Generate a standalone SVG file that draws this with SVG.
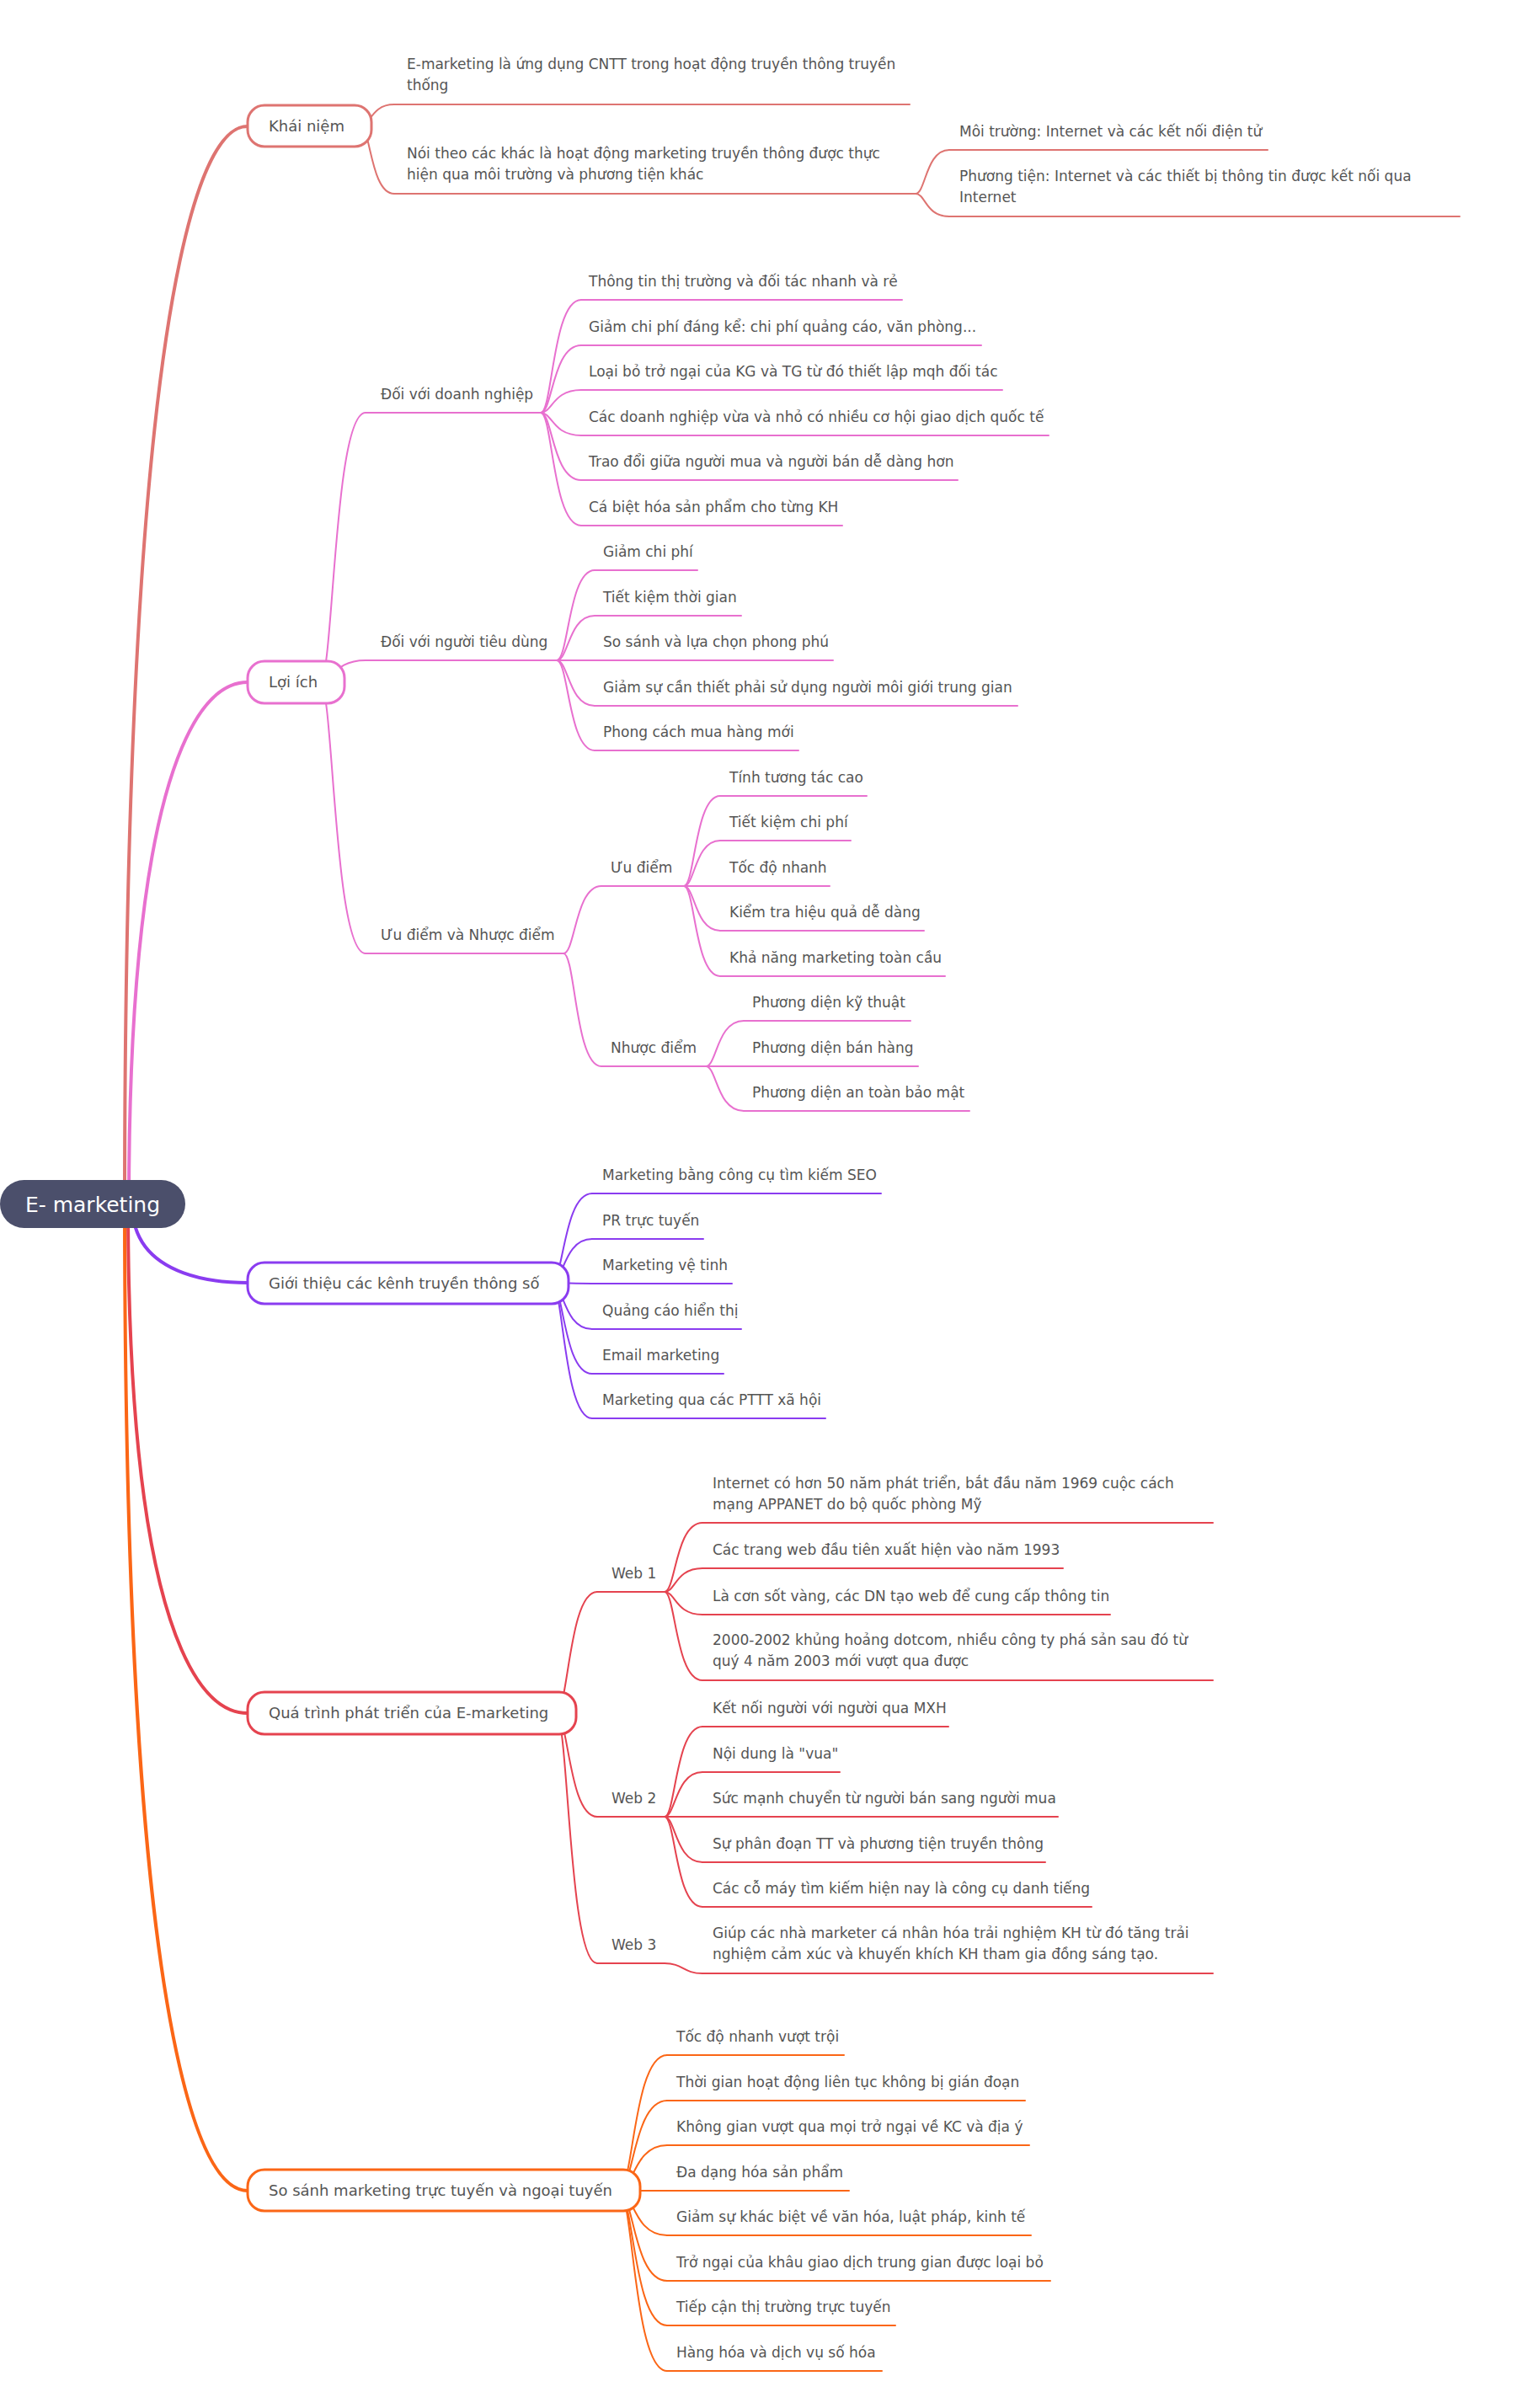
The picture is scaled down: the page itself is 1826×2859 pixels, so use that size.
<svg xmlns="http://www.w3.org/2000/svg" width="1826" height="2859" viewBox="0 0 1826 2859">
<style>
text{font-family:"DejaVu Sans","Noto Sans",sans-serif;font-size:17px;fill:#555555}
.nt{font-size:18px}
.rt{font-size:25px;fill:#ffffff;text-anchor:middle}
path,line{fill:none;stroke-linecap:round}
.w4{stroke-width:4}
.w2{stroke-width:2}
.box{fill:#ffffff;stroke-width:3}
.k{stroke:#de7471}
.l{stroke:#e870cf}
.g{stroke:#8a3cf0}
.q{stroke:#e5434f}
.s{stroke:#fb6616}
</style>
<rect width="1826" height="2859" fill="#ffffff"/>
<g id="connectors">
  <path class="k w4" d="M148 1430 C148 150 274 150 294 150"/>
  <path class="l w4" d="M153 1430 C153 810 274 810 294 810"/>
  <path class="g w4" d="M157 1430 C157 1523 274 1523 294 1523"/>
  <path class="q w4" d="M152 1430 C152 2034 274 2034 294 2034"/>
  <path class="s w4" d="M148 1430 C148 2601 274 2601 294 2601"/>

  <path class="k w2" d="M428 150 C440 150 440 124 468 124"/>
  <path class="k w2" d="M428 150 C440 150 440 230 468 230"/>
  <path class="k w2" d="M1087 230 C1099 230 1099 178 1127 178"/>
  <path class="k w2" d="M1087 230 C1099 230 1099 257 1127 257"/>

  <path class="l w2" d="M380 810 C396 810 396 490 434 490"/>
  <path class="l w2" d="M380 810 C396 810 396 784 434 784"/>
  <path class="l w2" d="M380 810 C396 810 396 1132 434 1132"/>
  <path class="l w2" d="M642 490 C656 490 656 356 690 356"/>
  <path class="l w2" d="M642 490 C656 490 656 410 690 410"/>
  <path class="l w2" d="M642 490 C656 490 656 463 690 463"/>
  <path class="l w2" d="M642 490 C656 490 656 517 690 517"/>
  <path class="l w2" d="M642 490 C656 490 656 570 690 570"/>
  <path class="l w2" d="M642 490 C656 490 656 624 690 624"/>
  <path class="l w2" d="M661 784 C675 784 675 677 706 677"/>
  <path class="l w2" d="M661 784 C675 784 675 731 706 731"/>
  <path class="l w2" d="M661 784 L706 784"/>
  <path class="l w2" d="M661 784 C675 784 675 838 706 838"/>
  <path class="l w2" d="M661 784 C675 784 675 891 706 891"/>
  <path class="l w2" d="M669 1132 C683 1132 683 1052 714 1052"/>
  <path class="l w2" d="M669 1132 C683 1132 683 1266 714 1266"/>
  <path class="l w2" d="M812 1052 C825 1052 825 945 855 945"/>
  <path class="l w2" d="M812 1052 C825 1052 825 998 855 998"/>
  <path class="l w2" d="M812 1052 L855 1052"/>
  <path class="l w2" d="M812 1052 C825 1052 825 1105 855 1105"/>
  <path class="l w2" d="M812 1052 C825 1052 825 1159 855 1159"/>
  <path class="l w2" d="M838 1266 C851 1266 851 1212 883 1212"/>
  <path class="l w2" d="M838 1266 L883 1266"/>
  <path class="l w2" d="M838 1266 C851 1266 851 1319 883 1319"/>

  <path class="g w2" d="M655 1523 C669 1523 669 1417 703 1417"/>
  <path class="g w2" d="M655 1523 C669 1523 669 1471 703 1471"/>
  <path class="g w2" d="M655 1523 C669 1523 669 1524 703 1524"/>
  <path class="g w2" d="M655 1523 C669 1523 669 1578 703 1578"/>
  <path class="g w2" d="M655 1523 C669 1523 669 1631 703 1631"/>
  <path class="g w2" d="M655 1523 C669 1523 669 1684 703 1684"/>

  <path class="q w2" d="M660 2034 C675 2034 675 1890 709 1890"/>
  <path class="q w2" d="M660 2034 C675 2034 675 2157 709 2157"/>
  <path class="q w2" d="M660 2034 C675 2034 675 2331 709 2331"/>
  <path class="q w2" d="M789 1890 C802 1890 802 1808 834 1808"/>
  <path class="q w2" d="M789 1890 C802 1890 802 1862 834 1862"/>
  <path class="q w2" d="M789 1890 C802 1890 802 1917 834 1917"/>
  <path class="q w2" d="M789 1890 C802 1890 802 1995 834 1995"/>
  <path class="q w2" d="M789 2157 C802 2157 802 2050 834 2050"/>
  <path class="q w2" d="M789 2157 C802 2157 802 2104 834 2104"/>
  <path class="q w2" d="M789 2157 L834 2157"/>
  <path class="q w2" d="M789 2157 C802 2157 802 2211 834 2211"/>
  <path class="q w2" d="M789 2157 C802 2157 802 2264 834 2264"/>
  <path class="q w2" d="M789 2331 C811 2331 811 2343 834 2343"/>

  <path class="s w2" d="M735 2601 C752 2601 752 2440 792 2440"/>
  <path class="s w2" d="M735 2601 C752 2601 752 2494 792 2494"/>
  <path class="s w2" d="M735 2601 C752 2601 752 2547 792 2547"/>
  <path class="s w2" d="M735 2601 L792 2601"/>
  <path class="s w2" d="M735 2601 C752 2601 752 2654 792 2654"/>
  <path class="s w2" d="M735 2601 C752 2601 752 2708 792 2708"/>
  <path class="s w2" d="M735 2601 C752 2601 752 2761 792 2761"/>
  <path class="s w2" d="M735 2601 C752 2601 752 2815 792 2815"/>
</g>

<g id="root">
  <rect x="0" y="1401" width="220" height="57" rx="28.5" fill="#4b4f6b"/>
  <text class="rt" x="110" y="1439">E- marketing</text>
</g>

<g id="khai-niem">
  <rect class="box k" x="294" y="125" width="147" height="49" rx="20"/>
  <text class="nt" x="319" y="156">Khái niệm</text>
</g>
<g id="kn-1"><line class="k w2" x1="468" y1="124" x2="1080" y2="124"/><text x="483" y="82">E-marketing là ứng dụng CNTT trong hoạt động truyền thông truyền</text><text x="483" y="107">thống</text></g>
<g id="kn-2"><line class="k w2" x1="468" y1="230" x2="1087" y2="230"/><text x="483" y="188">Nói theo các khác là hoạt động marketing truyền thông được thực</text><text x="483" y="213">hiện qua môi trường và phương tiện khác</text></g>
<g id="kn-2-1"><line class="k w2" x1="1127" y1="178" x2="1505" y2="178"/><text x="1139" y="162">Môi trường: Internet và các kết nối điện tử</text></g>
<g id="kn-2-2"><line class="k w2" x1="1127" y1="257" x2="1733" y2="257"/><text x="1139" y="215">Phương tiện: Internet và các thiết bị thông tin được kết nối qua</text><text x="1139" y="240">Internet</text></g>

<g id="loi-ich">
  <rect class="box l" x="294" y="785" width="115" height="50" rx="20"/>
  <text class="nt" x="319" y="816">Lợi ích</text>
</g>
<g id="li-dn"><line class="l w2" x1="434" y1="490" x2="642" y2="490"/><text x="452" y="474">Đối với doanh nghiệp</text></g>
<g id="li-dn-1"><line class="l w2" x1="690" y1="356" x2="1071" y2="356"/><text x="699" y="340">Thông tin thị trường và đối tác nhanh và rẻ</text></g>
<g id="li-dn-2"><line class="l w2" x1="690" y1="410" x2="1165" y2="410"/><text x="699" y="394">Giảm chi phí đáng kể: chi phí quảng cáo, văn phòng...</text></g>
<g id="li-dn-3"><line class="l w2" x1="690" y1="463" x2="1190" y2="463"/><text x="699" y="447">Loại bỏ trở ngại của KG và TG từ đó thiết lập mqh đối tác</text></g>
<g id="li-dn-4"><line class="l w2" x1="690" y1="517" x2="1245" y2="517"/><text x="699" y="501">Các doanh nghiệp vừa và nhỏ có nhiều cơ hội giao dịch quốc tế</text></g>
<g id="li-dn-5"><line class="l w2" x1="690" y1="570" x2="1137" y2="570"/><text x="699" y="554">Trao đổi giữa người mua và người bán dễ dàng hơn</text></g>
<g id="li-dn-6"><line class="l w2" x1="690" y1="624" x2="1000" y2="624"/><text x="699" y="608">Cá biệt hóa sản phẩm cho từng KH</text></g>

<g id="li-ntd"><line class="l w2" x1="434" y1="784" x2="661" y2="784"/><text x="452" y="768">Đối với người tiêu dùng</text></g>
<g id="li-ntd-1"><line class="l w2" x1="706" y1="677" x2="828" y2="677"/><text x="716" y="661">Giảm chi phí</text></g>
<g id="li-ntd-2"><line class="l w2" x1="706" y1="731" x2="880" y2="731"/><text x="716" y="715">Tiết kiệm thời gian</text></g>
<g id="li-ntd-3"><line class="l w2" x1="706" y1="784" x2="989" y2="784"/><text x="716" y="768">So sánh và lựa chọn phong phú</text></g>
<g id="li-ntd-4"><line class="l w2" x1="706" y1="838" x2="1208" y2="838"/><text x="716" y="822">Giảm sự cần thiết phải sử dụng người môi giới trung gian</text></g>
<g id="li-ntd-5"><line class="l w2" x1="706" y1="891" x2="948" y2="891"/><text x="716" y="875">Phong cách mua hàng mới</text></g>

<g id="li-un"><line class="l w2" x1="434" y1="1132" x2="669" y2="1132"/><text x="452" y="1116">Ưu điểm và Nhược điểm</text></g>
<g id="li-uu"><line class="l w2" x1="714" y1="1052" x2="812" y2="1052"/><text x="725" y="1036">Ưu điểm</text></g>
<g id="li-uu-1"><line class="l w2" x1="855" y1="945" x2="1029" y2="945"/><text x="866" y="929">Tính tương tác cao</text></g>
<g id="li-uu-2"><line class="l w2" x1="855" y1="998" x2="1010" y2="998"/><text x="866" y="982">Tiết kiệm chi phí</text></g>
<g id="li-uu-3"><line class="l w2" x1="855" y1="1052" x2="985" y2="1052"/><text x="866" y="1036">Tốc độ nhanh</text></g>
<g id="li-uu-4"><line class="l w2" x1="855" y1="1105" x2="1097" y2="1105"/><text x="866" y="1089">Kiểm tra hiệu quả dễ dàng</text></g>
<g id="li-uu-5"><line class="l w2" x1="855" y1="1159" x2="1122" y2="1159"/><text x="866" y="1143">Khả năng marketing toàn cầu</text></g>
<g id="li-nh"><line class="l w2" x1="714" y1="1266" x2="838" y2="1266"/><text x="725" y="1250">Nhược điểm</text></g>
<g id="li-nh-1"><line class="l w2" x1="883" y1="1212" x2="1081" y2="1212"/><text x="893" y="1196">Phương diện kỹ thuật</text></g>
<g id="li-nh-2"><line class="l w2" x1="883" y1="1266" x2="1090" y2="1266"/><text x="893" y="1250">Phương diện bán hàng</text></g>
<g id="li-nh-3"><line class="l w2" x1="883" y1="1319" x2="1151" y2="1319"/><text x="893" y="1303">Phương diện an toàn bảo mật</text></g>

<g id="gioi-thieu">
  <rect class="box g" x="294" y="1499" width="381" height="49" rx="20"/>
  <text class="nt" x="319" y="1530">Giới thiệu các kênh truyền thông số</text>
</g>
<g id="gt-1"><line class="g w2" x1="703" y1="1417" x2="1046" y2="1417"/><text x="715" y="1401">Marketing bằng công cụ tìm kiếm SEO</text></g>
<g id="gt-2"><line class="g w2" x1="703" y1="1471" x2="835" y2="1471"/><text x="715" y="1455">PR trực tuyến</text></g>
<g id="gt-3"><line class="g w2" x1="703" y1="1524" x2="869" y2="1524"/><text x="715" y="1508">Marketing vệ tinh</text></g>
<g id="gt-4"><line class="g w2" x1="703" y1="1578" x2="880" y2="1578"/><text x="715" y="1562">Quảng cáo hiển thị</text></g>
<g id="gt-5"><line class="g w2" x1="703" y1="1631" x2="859" y2="1631"/><text x="715" y="1615">Email marketing</text></g>
<g id="gt-6"><line class="g w2" x1="703" y1="1684" x2="980" y2="1684"/><text x="715" y="1668">Marketing qua các PTTT xã hội</text></g>

<g id="qua-trinh">
  <rect class="box q" x="294" y="2009" width="390" height="50" rx="20"/>
  <text class="nt" x="319" y="2040">Quá trình phát triển của E-marketing</text>
</g>
<g id="qt-w1"><line class="q w2" x1="709" y1="1890" x2="789" y2="1890"/><text x="726" y="1874">Web 1</text></g>
<g id="qt-w1-1"><line class="q w2" x1="834" y1="1808" x2="1440" y2="1808"/><text x="846" y="1767">Internet có hơn 50 năm phát triển, bắt đầu năm 1969 cuộc cách</text><text x="846" y="1792">mạng APPANET do bộ quốc phòng Mỹ</text></g>
<g id="qt-w1-2"><line class="q w2" x1="834" y1="1862" x2="1262" y2="1862"/><text x="846" y="1846">Các trang web đầu tiên xuất hiện vào năm 1993</text></g>
<g id="qt-w1-3"><line class="q w2" x1="834" y1="1917" x2="1318" y2="1917"/><text x="846" y="1901">Là cơn sốt vàng, các DN tạo web để cung cấp thông tin</text></g>
<g id="qt-w1-4"><line class="q w2" x1="834" y1="1995" x2="1440" y2="1995"/><text x="846" y="1953">2000-2002 khủng hoảng dotcom, nhiều công ty phá sản sau đó từ</text><text x="846" y="1978">quý 4 năm 2003 mới vượt qua được</text></g>
<g id="qt-w2"><line class="q w2" x1="709" y1="2157" x2="789" y2="2157"/><text x="726" y="2141">Web 2</text></g>
<g id="qt-w2-1"><line class="q w2" x1="834" y1="2050" x2="1126" y2="2050"/><text x="846" y="2034">Kết nối người với người qua MXH</text></g>
<g id="qt-w2-2"><line class="q w2" x1="834" y1="2104" x2="997" y2="2104"/><text x="846" y="2088">Nội dung là "vua"</text></g>
<g id="qt-w2-3"><line class="q w2" x1="834" y1="2157" x2="1256" y2="2157"/><text x="846" y="2141">Sức mạnh chuyển từ người bán sang người mua</text></g>
<g id="qt-w2-4"><line class="q w2" x1="834" y1="2211" x2="1241" y2="2211"/><text x="846" y="2195">Sự phân đoạn TT và phương tiện truyền thông</text></g>
<g id="qt-w2-5"><line class="q w2" x1="834" y1="2264" x2="1296" y2="2264"/><text x="846" y="2248">Các cỗ máy tìm kiếm hiện nay là công cụ danh tiếng</text></g>
<g id="qt-w3"><line class="q w2" x1="709" y1="2331" x2="789" y2="2331"/><text x="726" y="2315">Web 3</text></g>
<g id="qt-w3-1"><line class="q w2" x1="834" y1="2343" x2="1440" y2="2343"/><text x="846" y="2301">Giúp các nhà marketer cá nhân hóa trải nghiệm KH từ đó tăng trải</text><text x="846" y="2326">nghiệm cảm xúc và khuyến khích KH tham gia đồng sáng tạo.</text></g>

<g id="so-sanh">
  <rect class="box s" x="294" y="2576" width="466" height="49" rx="20"/>
  <text class="nt" x="319" y="2607">So sánh marketing trực tuyến và ngoại tuyến</text>
</g>
<g id="ss-1"><line class="s w2" x1="792" y1="2440" x2="1002" y2="2440"/><text x="803" y="2424">Tốc độ nhanh vượt trội</text></g>
<g id="ss-2"><line class="s w2" x1="792" y1="2494" x2="1217" y2="2494"/><text x="803" y="2478">Thời gian hoạt động liên tục không bị gián đoạn</text></g>
<g id="ss-3"><line class="s w2" x1="792" y1="2547" x2="1222" y2="2547"/><text x="803" y="2531">Không gian vượt qua mọi trở ngại về KC và địa ý</text></g>
<g id="ss-4"><line class="s w2" x1="792" y1="2601" x2="1008" y2="2601"/><text x="803" y="2585">Đa dạng hóa sản phẩm</text></g>
<g id="ss-5"><line class="s w2" x1="792" y1="2654" x2="1224" y2="2654"/><text x="803" y="2638">Giảm sự khác biệt về văn hóa, luật pháp, kinh tế</text></g>
<g id="ss-6"><line class="s w2" x1="792" y1="2708" x2="1247" y2="2708"/><text x="803" y="2692">Trở ngại của khâu giao dịch trung gian được loại bỏ</text></g>
<g id="ss-7"><line class="s w2" x1="792" y1="2761" x2="1063" y2="2761"/><text x="803" y="2745">Tiếp cận thị trường trực tuyến</text></g>
<g id="ss-8"><line class="s w2" x1="792" y1="2815" x2="1047" y2="2815"/><text x="803" y="2799">Hàng hóa và dịch vụ số hóa</text></g>
</svg>
